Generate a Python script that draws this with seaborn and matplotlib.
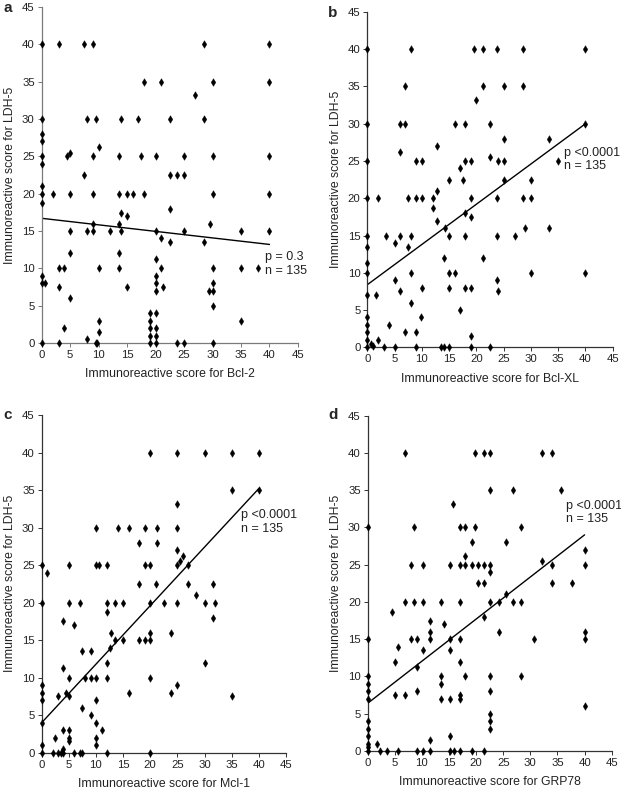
import matplotlib
matplotlib.use("Agg")
import matplotlib.pyplot as plt
import seaborn as sns
import pandas as pd

sns.set_theme(style="white")
plt.rcParams['font.family'] = ['Liberation Sans', 'DejaVu Sans']

# ---------------- data ----------------
# Panel a: Bcl-2 vs LDH-5
a_x = [0, 3, 7.5, 9, 28.5, 40,
       18, 21, 30, 40,
       27,
       0, 8, 9.5, 14, 17, 22.5, 28.5,
       0, 0, 10, 5,
       0, 4.5, 9, 13.5, 17.5, 20, 25, 30, 40,
       0, 7.5, 22.5, 23.7, 25, 0,
       0, 2, 5, 9, 13.5, 15, 16, 18, 30, 40,
       0, 22.5, 14, 15, 9, 13.5, 29.5,
       5, 8, 9, 12, 14, 20, 25, 35, 40,
       21, 22.5, 28.5, 5, 13.5, 20,
       3, 4, 10, 13.5, 21, 30, 35, 38,
       0, 20, 0, 0.6, 20, 30, 3, 15, 21.3,
       20, 29.3, 30, 5, 30, 19, 20, 10, 19, 35,
       4, 19, 20, 10, 19, 20, 8,
       0, 3, 9.5, 9.8, 19, 20, 23.7, 25, 30]
a_y = [40, 40, 40, 40, 40, 40,
       35, 35, 35, 35,
       33.2,
       30, 30, 30, 30, 30, 30, 30,
       28, 27, 26.2, 25.5,
       25, 25, 25, 25, 25, 25, 25, 25, 25,
       24, 22.5, 22.5, 22.5, 22.5, 21,
       20, 20, 20, 20, 20, 20, 20, 20, 20, 20,
       18.7, 18, 17.4, 17, 16, 16, 16,
       15, 15, 15, 15, 15, 15, 15, 15, 15,
       14, 13.5, 13.5, 12, 12, 11.3,
       10, 10, 10, 10, 10, 10, 10, 10,
       9, 9, 8, 8, 8, 8, 7.5, 7.5, 7.5,
       7, 7, 7, 6, 5, 4, 4, 3, 3, 3,
       2, 2, 2, 1.5, 1, 1, 0.5,
       0, 0, 0, 0, 0, 0, 0, 0, 0]
a_fit_x = [0, 40]
a_fit_y = [16.7, 13.2]

# Panel b: Bcl-XL vs LDH-5
b_x = [0, 8, 19.6, 21.3, 23.8, 28.5, 40,
       7, 21.3, 25, 28.5,
       20,
       0, 6, 7, 16, 18, 22.5, 40,
       25, 33.3, 12.7, 6, 22.5,
       0, 9, 10, 18, 19, 24, 25, 35,
       17, 15, 17.5, 25, 30, 12.7,
       0, 2, 7.5, 9, 10, 12, 19, 23.8, 28.5, 30,
       12, 18, 19, 12.7, 14.2, 29, 33.3,
       0, 3.5, 6, 8, 15, 18, 23.8, 27,
       5, 0, 7.5, 14, 21.3, 0,
       0, 8, 15, 16, 30, 40,
       5, 23.8, 10, 15, 18, 19, 6, 24,
       0, 1.5, 8, 17, 0, 9.8, 0, 4,
       0, 7, 9, 19, 0, 2, 0.7, 1,
       0, 3, 5, 9, 13.5, 14, 15, 19, 22.5]
b_y = [40, 40, 40, 40, 40, 40, 40,
       35, 35, 35, 35,
       33.2,
       30, 30, 30, 30, 30, 30, 30,
       28, 28, 27, 26.2, 25.5,
       25, 25, 25, 25, 25, 25, 25, 25,
       24, 22.5, 22.5, 22.5, 22.5, 21,
       20, 20, 20, 20, 20, 20, 20, 20, 20, 20,
       18.7, 18, 17.5, 17, 16, 16, 16,
       15, 15, 15, 15, 15, 15, 15, 15,
       14, 13.5, 13.5, 12, 12, 11.3,
       10, 10, 10, 10, 10, 10,
       9, 9, 8, 8, 8, 8, 7.5, 7.5,
       7, 7, 6, 5, 4, 4, 3, 3,
       2, 2, 2, 1.5, 1, 1, 0.5, 0.2,
       0, 0, 0, 0, 0, 0, 0, 0, 0]
b_fit_x = [0, 40]
b_fit_y = [8.4, 30.0]

# Panel c: Mcl-1 vs LDH-5
c_x = [20, 25, 30, 35, 40,
       35, 40,
       25,
       10, 14, 16, 19, 21.2, 25,
       18, 21.2, 25, 26, 25.5,
       0, 5, 10, 10.5, 12, 19, 20, 25, 27,
       1, 18, 21, 27, 31.5, 28.5,
       0, 5, 7, 12, 13.5, 15, 20, 22.5, 25, 30, 32,
       12, 31.5, 4, 6,
       12.7, 20, 23.8,
       13.5, 15, 18, 19, 20,
       12.5, 7.5, 9, 12, 30, 4,
       5, 8, 9, 10, 12, 20,
       0, 25, 0, 4.5, 16, 23.8, 3, 5, 35, 0, 10,
       7.5, 9, 0, 10, 4, 5, 11.2,
       2.5, 5, 10, 5, 0, 10, 4,
       0, 2, 3, 3.5, 4, 6, 7, 7.5, 12, 20]
c_y = [40, 40, 40, 40, 40,
       35, 35,
       33.2,
       30, 30, 30, 30, 30, 30,
       28, 28, 27, 26.2, 25.5,
       25, 25, 25, 25, 25, 25, 25, 25, 25,
       24, 22.5, 22.5, 22.5, 22.5, 21,
       20, 20, 20, 20, 20, 20, 20, 20, 20, 20, 20,
       18.7, 18, 17.5, 17,
       16, 16, 16,
       15, 15, 15, 15, 15,
       14, 13.5, 13.5, 12, 12, 11.3,
       10, 10, 10, 10, 10, 10,
       9, 9, 8, 8, 8, 8, 7.5, 7.5, 7.5, 7, 7,
       6, 5, 4, 4, 3, 3, 3,
       2, 2, 2, 1.5, 1, 1, 0.5,
       0, 0, 0, 0, 0, 0, 0, 0, 0, 0]
c_fit_x = [0, 40]
c_fit_y = [4.0, 35.2]

# Panel d: GRP78 vs LDH-5
d_x = [6.8, 19.7, 21.4, 22.6, 32.2, 34,
       22.6, 26.8, 35.6,
       15.8,
       0, 8.5, 17, 18, 19.7, 28.3,
       19.2, 25.5, 40, 18, 32.2,
       7.9, 10.2, 15.2, 17, 18, 19.2, 20.3, 21.4, 22.6, 34, 40,
       22.6, 20.3, 21.4, 34, 37.7, 25.5,
       6.8, 8.5, 10.2, 13.6, 17, 22.6, 24.2, 26.8, 28.3,
       4.5, 21.4, 11.4, 14.1,
       11.4, 24.2, 40,
       0, 7.9, 9.1, 11.4, 15.2, 17, 30.6, 40,
       5.6, 10.2, 15.2, 5.1, 17, 9.1,
       0, 13.6, 18, 22.6, 28.3,
       0, 13.6, 0, 9.1, 22.6, 5.1, 6.8, 17,
       0, 13.6, 15.2, 17, 40,
       22.6, 0, 22.6, 0, 22.6,
       0, 15.2, 11.4, 0, 1.7, 0,
       0, 2.3, 3.5, 5.6, 9.1, 10.2, 11.4, 15.2, 15.9, 17, 19.2, 21.4]
d_y = [40, 40, 40, 40, 40, 40,
       35, 35, 35,
       33.2,
       30, 30, 30, 30, 30, 30,
       28, 28, 27, 26.2, 25.5,
       25, 25, 25, 25, 25, 25, 25, 25, 25, 25, 25,
       24, 22.5, 22.5, 22.5, 22.5, 21,
       20, 20, 20, 20, 20, 20, 20, 20, 20,
       18.7, 18, 17.5, 17,
       16, 16, 16,
       15, 15, 15, 15, 15, 15, 15, 15,
       14, 13.5, 13.5, 12, 12, 11.3,
       10, 10, 10, 10, 10,
       9, 9, 8, 8, 8, 7.5, 7.5, 7.5,
       7, 7, 7, 7, 6,
       5, 4, 4, 3, 3,
       2, 2, 1.5, 1, 1, 0.5,
       0, 0, 0, 0, 0, 0, 0, 0, 0, 0, 0, 0]
d_fit_x = [0, 40]
d_fit_y = [6.4, 29.0]

ticks = [0, 5, 10, 15, 20, 25, 30, 35, 40, 45]
x_labels = ["Immunoreactive score for Bcl-2",
            "Immunoreactive score for Bcl-XL",
            "Immunoreactive score for Mcl-1",
            "Immunoreactive score for GRP78"]
y_label = "Immunoreactive score for LDH-5"
stats_text = ["p = 0.3\nn = 135", "p <0.0001\nn = 135",
              "p <0.0001\nn = 135", "p <0.0001\nn = 135"]
text_pos = [(39.2, 10.6), (36.1, 25.2), (36.8, 30.7), (36.5, 32.0)]
letters = ["a", "b", "c", "d"]

# ---------------- figure ----------------
fig = plt.figure(figsize=(6.21, 7.92), dpi=100)
positions = [
    [0.0671, 0.5669, 0.4127, 0.4243],
    [0.5915, 0.5615, 0.3952, 0.4234],
    [0.0671, 0.0496, 0.3934, 0.4264],
    [0.5921, 0.0518, 0.3929, 0.4234],
]
letter_pos = [(3 / 621, 1 - 8 / 792), (328 / 621, 1 - 13 / 792),
              (3 / 621, 1 - 415 / 792), (328 / 621, 1 - 415 / 792)]
spine_colors = ["#7a7a7a", "#333333", "#333333", "#333333"]

datasets = [(a_x, a_y, a_fit_x, a_fit_y), (b_x, b_y, b_fit_x, b_fit_y),
            (c_x, c_y, c_fit_x, c_fit_y), (d_x, d_y, d_fit_x, d_fit_y)]

fs_tick = 8.2
fs_lab = 8.8
fs_txt = 9.0
for i, (xs, ys, fx, fy) in enumerate(datasets):
    ax = fig.add_axes(positions[i])
    df = pd.DataFrame({"x": xs, "y": ys})
    fit = pd.DataFrame({"x": fx, "y": fy})
    sns.lineplot(data=fit, x="x", y="y", ax=ax, color="black", linewidth=1.0)
    sns.scatterplot(data=df, x="x", y="y", ax=ax, marker="d", s=15,
                    color="black", edgecolor="black", linewidth=0.3,
                    clip_on=False, zorder=5)
    ax.set_xlim(0, 45)
    ax.set_ylim(0, 45)
    ax.set_xticks(ticks)
    ax.set_yticks(ticks)
    ax.set_xticklabels([str(t) for t in ticks], fontsize=fs_tick)
    ax.set_yticklabels([str(t) for t in ticks], fontsize=fs_tick)
    ax.set_xlabel(x_labels[i], fontsize=fs_lab, labelpad=6, color="#222222")
    ax.set_ylabel(y_label, fontsize=fs_lab, labelpad=4, color="#222222")
    for side in ["top", "right"]:
        ax.spines[side].set_visible(False)
    for side in ["left", "bottom"]:
        ax.spines[side].set_color(spine_colors[i])
        ax.spines[side].set_linewidth(0.9)
    ax.tick_params(axis="both", which="both", direction="out", length=3,
                   width=0.7, color=spine_colors[i], pad=2,
                   labelcolor="#222222", bottom=True, left=True)
    ax.set_facecolor("white")
    ax.grid(False)
    ax.text(text_pos[i][0], text_pos[i][1], stats_text[i], fontsize=fs_txt,
            ha="left", va="center", linespacing=1.2, color="#222222")
    fig.text(letter_pos[i][0], letter_pos[i][1], letters[i], fontsize=11,
             fontweight="bold", ha="left", va="center")

fig.savefig("out.png", dpi=100)
